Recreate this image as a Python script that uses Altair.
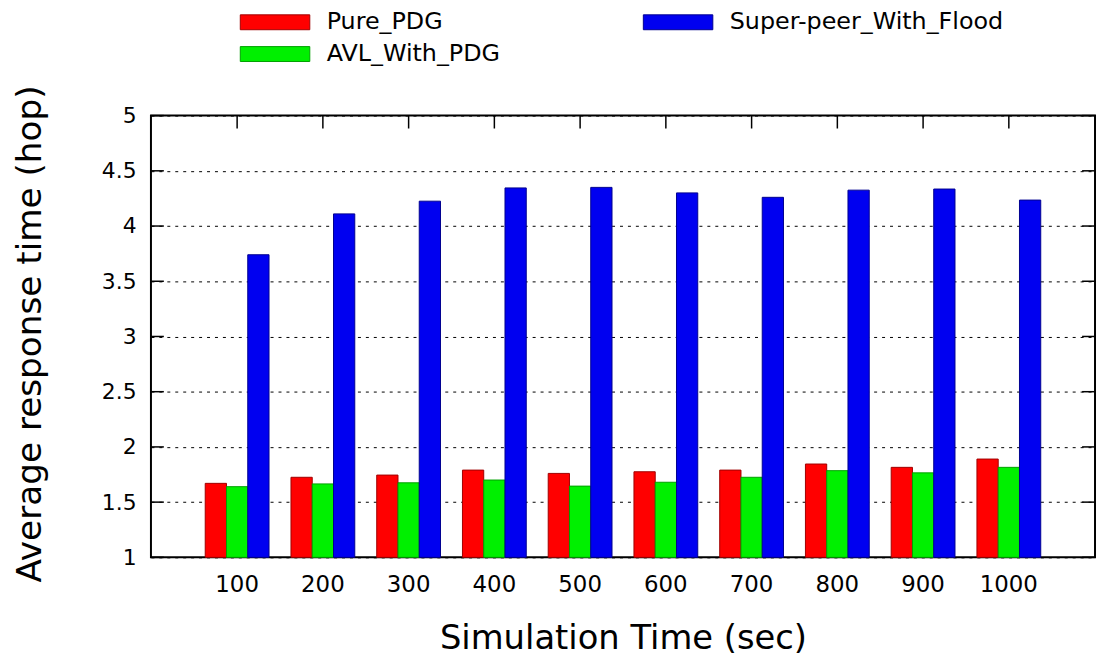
import altair as alt
import pandas as pd

times = ["100", "200", "300", "400", "500", "600", "700", "800", "900", "1000"]
series_names = ["Pure_PDG", "AVL_With_PDG", "Super-peer_With_Flood"]
pure_pdg = [1.67, 1.725, 1.745, 1.79, 1.76, 1.775, 1.79, 1.845, 1.815, 1.89]
avl_with_pdg = [1.64, 1.665, 1.675, 1.70, 1.645, 1.68, 1.725, 1.785, 1.765, 1.815]
super_peer_with_flood = [3.74, 4.11, 4.225, 4.345, 4.35, 4.30, 4.26, 4.325, 4.335, 4.235]
y_ticks = [1, 1.5, 2, 2.5, 3, 3.5, 4, 4.5, 5]

rows = []
for name, vals in zip(series_names, [pure_pdg, avl_with_pdg, super_peer_with_flood]):
    for t, v in zip(times, vals):
        rows.append({"time": t, "series": name, "value": v})
df = pd.DataFrame(rows)
tick_df = pd.DataFrame({"value": y_ticks})
time_df = pd.DataFrame({"time": times})

W, H = 951, 445
FONT = "DejaVu Sans"

fill_range = ["#ff0000", "#00f000", "#0000f0"]
stroke_range = ["#a00000", "#00a000", "#000090"]

xscale = alt.Scale(domain=times, paddingInner=0.256, paddingOuter=0.633)
yscale = alt.Scale(domain=[1, 5], nice=False, zero=False)

x_axis = alt.Axis(title="Simulation Time (sec)", labelAngle=0, labelFontSize=23,
                  labelFont=FONT, labelColor="black", labelPadding=16,
                  ticks=False, tickSize=0, domain=False, grid=False,
                  titleFont=FONT, titleFontSize=34, titleFontWeight="normal",
                  titleColor="black", titleY=92, titleX=W / 2,
                  titleBaseline="alphabetic")
y_axis = alt.Axis(title="Average response time (hop)", values=y_ticks, format="~g",
                  labelFontSize=22, labelFont=FONT, labelColor="black",
                  labelPadding=15, ticks=False, tickSize=0, domain=False,
                  grid=True, gridColor="black", gridDash=[3, 5], gridWidth=1,
                  titleFont=FONT, titleFontSize=34.5, titleFontWeight="normal",
                  titleColor="black", titleX=-121, titleY=219.5,
                  titleAngle=270, titleAlign="center", titleBaseline="middle")

bars = alt.Chart(df).mark_bar(strokeWidth=1).encode(
    x=alt.X("time:N", sort=times, scale=xscale, axis=x_axis),
    xOffset=alt.XOffset("series:N", sort=series_names,
                        scale=alt.Scale(paddingInner=0, paddingOuter=0)),
    y=alt.Y("value:Q", scale=yscale, axis=y_axis),
    y2=alt.datum(1),
    color=alt.Color("series:N",
                    scale=alt.Scale(domain=series_names, range=fill_range),
                    legend=alt.Legend(title=None, orient="none", legendX=113, legendY=-106,
                                      values=series_names,
                                      columns=2, columnPadding=142, rowPadding=8,
                                      labelFont=FONT, labelFontSize=24, labelColor="black",
                                      labelOffset=40, labelLimit=400,
                                      symbolType="M-7,-1.5H7V1.5H-7Z", symbolSize=100,
                                      symbolStrokeWidth=1, symbolOpacity=1)),
    stroke=alt.Stroke("series:N",
                      scale=alt.Scale(domain=series_names, range=stroke_range),
                      legend=None),
)

left_ticks = alt.Chart(tick_df).mark_rule(color="black", strokeWidth=1.5).encode(
    y=alt.Y("value:Q", scale=yscale, axis=y_axis),
    x=alt.value(0), x2=alt.value(13))
right_ticks = alt.Chart(tick_df).mark_rule(color="black", strokeWidth=1.5).encode(
    y=alt.Y("value:Q", scale=yscale, axis=y_axis),
    x=alt.value(W - 13), x2=alt.value(W))
top_ticks = alt.Chart(time_df).mark_rule(color="black", strokeWidth=1.5).encode(
    x=alt.X("time:N", sort=times, scale=xscale, bandPosition=0.5, axis=x_axis),
    y=alt.value(0), y2=alt.value(13))

chart = alt.layer(bars, left_ticks, right_ticks, top_ticks).properties(
    width=W, height=H,
    background="white",
    autosize=alt.AutoSizeParams(type="none"),
    padding={"left": 144, "top": 106, "right": 2, "bottom": 99},
).configure_view(stroke="black", strokeWidth=2, fill="white")

chart.save("out.html", embed_options={"renderer": "svg", "actions": False})
